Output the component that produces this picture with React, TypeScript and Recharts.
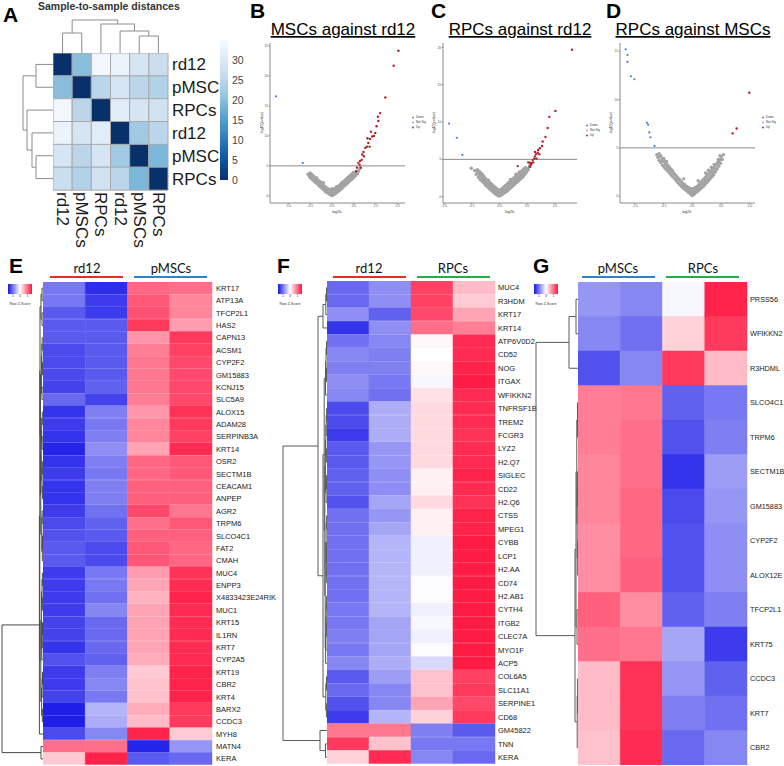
import React from 'react';
import { BarChart, Bar, Cell, XAxis, YAxis, ScatterChart, Scatter, ReferenceLine, Legend } from 'recharts';

const SANS = '"Liberation Sans", Arial, Helvetica, sans-serif';
const HEAD = 'Lato, "Open Sans", sans-serif';

// ---------------- Panel A data ----------------
const sampleRowLabels = ['rd12', 'pMSC', 'RPCs', 'rd12', 'pMSC', 'RPCs'];
const sampleColLabels = ['rd12', 'pMSCs', 'RPCs', 'rd12', 'pMSCs', 'RPCs'];
const sampleIds = ['s0', 's1', 's2', 's3', 's4', 's5'];
const distances = [
  [0, 20, 34, 33, 29, 27],
  [20, 0, 25, 29, 25, 24],
  [34, 25, 0, 31, 29, 28],
  [33, 29, 31, 0, 22, 25],
  [29, 25, 29, 22, 0, 19],
  [27, 24, 28, 25, 19, 0],
];
const distTicks = [0, 5, 10, 15, 20, 25, 30];
// dendrogram merges: [posA, heightA, posB, heightB, mergeHeight]
const aColTree = [
  [0.5, 0, 1.5, 0, 20],
  [4.5, 0, 5.5, 0, 17],
  [3.5, 0, 5.0, 17, 22],
  [2.5, 0, 4.25, 22, 29],
  [1.0, 20, 3.375, 29, 33],
];
const aRowTree = [
  [0.5, 0, 1.5, 0, 17],
  [4.5, 0, 5.5, 0, 17],
  [3.5, 0, 5.0, 17, 21],
  [2.5, 0, 4.25, 21, 26],
  [1.0, 17, 3.375, 26, 30],
];

// ---------------- Volcano data ----------------
const bDown = [[-1.28, 16.6], [-0.67, 5.5]];
const bUp = [[1.52, 24.2], [1.41, 21.7], [1.22, 16.4], [1.10, 13.8], [1.05, 13.2], [1.06, 12.5], [1.02, 11.6], [0.99, 10.5], [0.96, 10.0], [0.89, 10.7], [0.92, 9.9], [0.87, 9.5], [0.81, 9.6], [0.83, 8.8], [0.80, 8.2], [0.86, 8.2], [0.76, 8.0], [0.72, 7.3], [0.69, 6.9], [0.73, 6.6], [0.68, 6.0], [0.64, 5.8], [0.60, 5.5], [0.63, 5.2], [0.66, 4.7], [0.57, 4.7], [0.55, 4.1]];
const bNs = [[-0.55, 3.6], [-0.52, 3.3], [-0.5, 3.0], [-0.48, 3.4], [-0.46, 2.8], [-0.45, 3.1], [-0.43, 2.6], [-0.42, 2.9], [-0.4, 2.4], [-0.39, 2.8], [-0.37, 2.2], [-0.36, 2.6], [-0.34, 2.0], [-0.33, 2.4], [-0.31, 1.8], [-0.3, 2.2], [-0.28, 1.6], [-0.27, 2.0], [-0.25, 1.4], [-0.24, 1.9], [-0.22, 1.2], [-0.21, 1.6], [-0.19, 1.0], [-0.18, 1.4], [-0.16, 0.8], [-0.15, 1.2], [-0.13, 0.6], [-0.12, 1.0], [-0.1, 0.5], [-0.09, 0.9], [-0.07, 0.3], [-0.06, 0.7], [-0.04, 0.2], [-0.03, 0.6], [-0.01, 0.05], [0, 0.4], [0, 0.9], [0.02, 0.1], [0.03, 0.6], [0.05, 0.25], [0.06, 0.8], [0.08, 0.4], [0.09, 0.9], [0.11, 0.55], [0.12, 1.0], [0.14, 0.7], [0.15, 1.2], [0.17, 0.9], [0.18, 1.4], [0.2, 1.1], [0.21, 1.6], [0.23, 1.3], [0.24, 1.8], [0.26, 1.5], [0.27, 2.0], [0.29, 1.7], [0.3, 2.2], [0.32, 1.9], [0.33, 2.4], [0.35, 2.1], [0.36, 2.6], [0.38, 2.3], [0.39, 2.8], [0.41, 2.5], [0.42, 3.0], [0.44, 2.7], [0.45, 3.2], [0.47, 2.9], [0.48, 3.4], [0.5, 3.1], [0.52, 3.5], [0.54, 3.4], [0.56, 3.8], [0.58, 3.7], [0.6, 4.1], [0.62, 4.3], [0.64, 4.7], [-0.26, 2.3], [-0.2, 2.2], [0.1, 1.5], [0.22, 2.2], [-0.35, 3.0], [0.35, 2.9],
  [-0.5, 3.8], [-0.47, 3.6], [-0.44, 3.4], [-0.41, 3.2], [-0.38, 3.0], [-0.35, 2.8], [-0.32, 2.6], [-0.29, 2.4], [-0.26, 2.2], [-0.23, 2.0], [-0.2, 1.8], [-0.17, 1.6], [-0.14, 1.4], [-0.11, 1.25], [-0.08, 1.1], [-0.05, 1.0], [-0.02, 1.1], [0.01, 1.2], [0.04, 1.1], [0.07, 1.2], [0.1, 1.3], [0.13, 1.5], [0.16, 1.7], [0.19, 1.9], [0.22, 2.1], [0.25, 2.3], [0.28, 2.5], [0.31, 2.7], [0.34, 2.9], [0.37, 3.1], [0.4, 3.3], [0.43, 3.5], [0.46, 3.7], [0.49, 3.9]];

const cDown = [[-0.91, 9.8], [-0.77, 7.9], [-0.67, 5.6]];
const cUp = [[1.31, 19.7], [1.01, 11.5], [0.90, 10.7], [0.87, 9.2], [0.83, 8.0], [0.78, 7.4], [0.77, 6.8], [0.73, 6.5], [0.70, 6.25], [0.69, 5.9], [0.66, 5.7], [0.64, 5.4], [0.63, 5.1], [0.60, 4.9], [0.61, 4.6], [0.58, 4.5], [0.57, 4.3], [0.55, 4.55], [0.52, 4.6], [0.33, 4.1], [0.67, 5.1], [0.72, 5.7], [0.55, 4.0], [0.64, 6.0]];
const cNs = [[-0.42, 3.0], [-0.4, 3.3], [-0.38, 2.6], [-0.37, 3.0], [-0.35, 2.3], [-0.34, 2.8], [-0.32, 2.1], [-0.31, 2.5], [-0.29, 1.9], [-0.28, 2.3], [-0.26, 1.6], [-0.25, 2.0], [-0.23, 1.4], [-0.22, 1.8], [-0.2, 1.2], [-0.19, 1.6], [-0.17, 1.0], [-0.16, 1.4], [-0.14, 0.8], [-0.13, 1.2], [-0.11, 0.6], [-0.1, 1.0], [-0.08, 0.4], [-0.07, 0.8], [-0.05, 0.25], [-0.04, 0.6], [-0.02, 0.1], [-0.01, 0.5], [0.01, 0.1], [0.02, 0.5], [0.04, 0.25], [0.05, 0.7], [0.07, 0.4], [0.08, 0.85], [0.1, 0.55], [0.11, 1.0], [0.13, 0.7], [0.14, 1.2], [0.16, 0.9], [0.17, 1.4], [0.19, 1.1], [0.2, 1.6], [0.22, 1.3], [0.23, 1.8], [0.25, 1.5], [0.26, 2.0], [0.28, 1.7], [0.29, 2.2], [0.31, 1.9], [0.32, 2.4], [0.34, 2.1], [0.35, 2.6], [0.37, 2.3], [0.38, 2.8], [0.4, 2.5], [0.41, 3.0], [0.43, 2.7], [0.44, 3.2], [0.46, 3.0], [0.47, 3.4], [0.49, 3.3], [0.5, 3.7], [0.52, 3.6], [0.54, 4.0], [0.55, 4.2], [-0.51, 3.8], [-0.45, 3.5], [0.3, 3.0], [0.36, 3.3], [0.2, 2.3], [-0.2, 2.2],
  [-0.4, 3.6], [-0.37, 3.4], [-0.34, 3.2], [-0.31, 3.0], [-0.28, 2.7], [-0.25, 2.4], [-0.22, 2.2], [-0.19, 2.0], [-0.16, 1.8], [-0.13, 1.6], [-0.1, 1.4], [-0.07, 1.2], [-0.04, 1.0], [-0.01, 0.9], [0.02, 0.9], [0.05, 1.1], [0.08, 1.3], [0.11, 1.5], [0.14, 1.7], [0.17, 1.9], [0.2, 2.1], [0.23, 2.3], [0.26, 2.5], [0.29, 2.7], [0.32, 2.9], [0.35, 3.1], [0.38, 3.3], [0.41, 3.5], [0.44, 3.7], [0.47, 3.9]];

const dDown = [[-1.16, 15.2], [-1.13, 14.6], [-1.13, 13.9], [-1.07, 12.4], [-1.01, 12.1], [-0.79, 7.6], [-0.77, 7.4], [-0.75, 6.6], [-0.73, 6.1], [-0.66, 5.2]];
const dUp = [[0.99, 10.7], [0.77, 7.0], [0.70, 6.5]];
const dNs = [[-0.62, 4.3], [-0.6, 4.0], [-0.58, 3.7], [-0.57, 4.1], [-0.55, 3.5], [-0.53, 3.8], [-0.52, 3.2], [-0.5, 3.6], [-0.49, 3.0], [-0.47, 3.3], [-0.46, 2.8], [-0.44, 3.1], [-0.43, 2.6], [-0.41, 2.9], [-0.4, 2.4], [-0.38, 2.7], [-0.37, 2.2], [-0.35, 2.5], [-0.34, 2.0], [-0.32, 2.3], [-0.31, 1.8], [-0.29, 2.1], [-0.28, 1.6], [-0.26, 1.9], [-0.25, 1.4], [-0.23, 1.7], [-0.22, 1.2], [-0.2, 1.5], [-0.19, 1.0], [-0.17, 1.3], [-0.16, 0.85], [-0.14, 1.1], [-0.13, 0.7], [-0.11, 0.95], [-0.1, 0.55], [-0.08, 0.8], [-0.07, 0.4], [-0.05, 0.65], [-0.04, 0.25], [-0.02, 0.5], [-0.01, 0.1], [0, 0.35], [0.01, 0.1], [0.02, 0.45], [0.04, 0.25], [0.05, 0.6], [0.07, 0.4], [0.08, 0.75], [0.1, 0.55], [0.11, 0.9], [0.13, 0.7], [0.14, 1.1], [0.16, 0.85], [0.17, 1.25], [0.19, 1.0], [0.2, 1.4], [0.22, 1.2], [0.23, 1.6], [0.25, 1.4], [0.26, 1.8], [0.28, 1.6], [0.29, 2.0], [0.31, 1.8], [0.32, 2.2], [0.34, 2.0], [0.35, 2.4], [0.37, 2.2], [0.38, 2.6], [0.4, 2.5], [0.41, 2.9], [0.43, 2.8], [0.44, 3.2], [0.46, 3.1], [0.47, 3.5], [0.49, 3.4], [0.5, 3.8], [0.52, 3.8], [0.54, 4.3], [-0.5, 3.9], [-0.45, 3.6], [-0.15, 1.8], [0.23, 2.4], [0.28, 2.7], [0.33, 3.0], [0.38, 3.3], [0.45, 3.8], [0.48, 4.2], [0.1, 1.6],
  [-0.58, 4.4], [-0.55, 4.2], [-0.52, 3.9], [-0.49, 3.7], [-0.46, 3.4], [-0.43, 3.2], [-0.4, 3.0], [-0.37, 2.8], [-0.34, 2.6], [-0.31, 2.3], [-0.28, 2.1], [-0.25, 1.9], [-0.22, 1.7], [-0.19, 1.5], [-0.16, 1.3], [-0.13, 1.2], [-0.1, 1.0], [-0.07, 0.9], [-0.04, 0.8], [-0.01, 0.75], [0.02, 0.8], [0.05, 0.9], [0.08, 1.0], [0.11, 1.2], [0.14, 1.4], [0.17, 1.6], [0.2, 1.8], [0.23, 2.0], [0.26, 2.2], [0.29, 2.4], [0.32, 2.6], [0.35, 2.8], [0.38, 3.0], [0.41, 3.3], [0.44, 3.5], [0.47, 3.8], [0.5, 4.1]];

const xTicksB = [-1, -0.5, 0, 0.5, 1, 1.5];
const xTicksCD = [-1, -0.5, 0, 0.5, 1];
const yTicksB = [0, 5, 10, 15, 20, 25];
const yTicksC = [0, 5, 10, 15, 20];
const yTicksD = [0, 5, 10, 15];
const legendNames = ['Down', 'Not Sig', 'Up'];

// ---------------- Heatmap E ----------------
const eGenes = ['KRT17', 'ATP13A', 'TFCP2L1', 'HAS2', 'CAPN13', 'ACSM1', 'CYP2F2', 'GM15883', 'KCNJ15', 'SLC5A9', 'ALOX15', 'ADAM28', 'SERPINB3A', 'KRT14', 'OSR2', 'SECTM1B', 'CEACAM1', 'ANPEP', 'AGR2', 'TRPM6', 'SLCO4C1', 'FAT2', 'CMAH', 'MUC4', 'ENPP3', 'X4833423E24RIK', 'MUC1', 'KRT15', 'IL1RN', 'KRT7', 'CYP2A5', 'KRT19', 'CBR2', 'KRT4', 'BARX2', 'CCDC3', 'MYH8', 'MATN4', 'KERA'];
const eZ = [
  [-0.9, -1.4, 1.0, 0.95], [-0.9, -1.3, 1.1, 0.8], [-1.1, -1.3, 1.15, 0.8], [-1.1, -1.1, 1.3, 0.65],
  [-1.1, -1.1, 0.7, 1.3], [-1.2, -1.1, 0.85, 1.25], [-1.2, -1.1, 0.9, 1.2], [-1.2, -1.1, 0.9, 1.2],
  [-1.25, -1.05, 0.9, 1.2], [-1.0, -1.25, 0.85, 1.2], [-1.35, -0.85, 0.7, 1.35], [-1.3, -0.9, 0.8, 1.3],
  [-1.35, -0.85, 0.8, 1.25], [-1.45, -0.75, 0.6, 1.4], [-1.35, -0.85, 1.0, 1.1], [-1.3, -0.9, 1.0, 1.1],
  [-1.35, -0.85, 1.05, 1.05], [-1.35, -0.85, 1.05, 1.05], [-1.3, -0.95, 1.2, 0.9], [-1.2, -1.05, 0.95, 1.1],
  [-1.15, -1.1, 1.05, 1.05], [-1.1, -1.2, 1.1, 1.0], [-1.1, -1.2, 1.1, 1.0], [-1.3, -0.9, 0.65, 1.35],
  [-1.3, -0.9, 0.6, 1.4], [-1.3, -0.95, 0.5, 1.45], [-1.3, -0.8, 0.6, 1.4], [-1.25, -1.0, 0.6, 1.4],
  [-1.25, -1.0, 0.6, 1.4], [-1.35, -1.0, 0.6, 1.4], [-1.15, -1.05, 0.55, 1.4], [-1.3, -0.85, 0.35, 1.45],
  [-1.3, -0.8, 0.4, 1.45], [-1.25, -0.9, 0.4, 1.45], [-1.5, -0.5, 0.55, 1.3], [-1.5, -0.55, 0.45, 1.3],
  [-1.2, -0.8, 1.45, 0.35], [0.95, 0.95, -1.45, -0.7], [0.35, 1.45, -1.1, -1.0],
];
const eTree = [
  [0.5, 0, 1.5, 0, 1], [2.5, 0, 3.5, 0, 1], [1, 1, 3, 1, 2], [4.5, 0, 5.5, 0, 0.8], [6.5, 0, 7.5, 0, 0.6],
  [5, 0.8, 7, 0.6, 1.2], [8.5, 0, 9.5, 0, 1], [6, 1.2, 9, 1, 1.6], [10.5, 0, 11.5, 0, 0.7], [12.5, 0, 13.5, 0, 0.9],
  [11, 0.7, 13, 0.9, 1.3], [14.5, 0, 15.5, 0, 0.6], [16.5, 0, 17.5, 0, 0.4], [15, 0.6, 17, 0.4, 1], [12, 1.3, 16, 1, 1.8],
  [18.5, 0, 19.5, 0, 0.8], [20.5, 0, 21.5, 0, 0.5], [21, 0.5, 22.5, 0, 0.7], [19, 0.8, 21.75, 0.7, 1.2],
  [14, 1.8, 20.375, 1.2, 2.2], [7.5, 1.6, 17.19, 2.2, 2.6], [2, 2, 12.34, 2.6, 3], [23.5, 0, 24.5, 0, 0.6],
  [25.5, 0, 26.5, 0, 0.6], [24, 0.6, 26, 0.6, 1], [27.5, 0, 28.5, 0, 0.5], [28, 0.5, 29.5, 0, 0.8],
  [30.5, 0, 28.75, 0.8, 1.2], [25, 1, 29.63, 1.2, 1.6], [31.5, 0, 32.5, 0, 0.5], [32, 0.5, 33.5, 0, 0.9],
  [34.5, 0, 35.5, 0, 0.7], [32.75, 0.9, 35, 0.7, 1.4], [27.31, 1.6, 33.88, 1.4, 2.2], [7.17, 3, 30.59, 2.2, 3.2],
  [18.88, 3.2, 36.5, 0, 3.6], [37.5, 0, 38.5, 0, 2], [27.69, 3.6, 38, 2, 41],
];

// ---------------- Heatmap F ----------------
const fGenes = ['MUC4', 'R3HDM', 'KRT17', 'KRT14', 'ATP6V0D2', 'CD52', 'NOG', 'ITGAX', 'WFIKKN2', 'TNFRSF1B', 'TREM2', 'FCGR3', 'LYZ2', 'H2.Q7', 'SIGLEC', 'CD22', 'H2.Q6', 'CTSS', 'MPEG1', 'CYBB', 'LCP1', 'H2.AA', 'CD74', 'H2.AB1', 'CYTH4', 'ITGB2', 'CLEC7A', 'MYO1F', 'ACP5', 'COL6A5', 'SLC11A1', 'SERPINE1', 'CD68', 'GM45822', 'TNN', 'KERA'];
const fZ = [
  [-1.0, -0.75, 1.25, 0.45], [-1.0, -0.75, 1.25, 0.35], [-0.75, -1.05, 1.2, 0.6], [-1.35, -0.75, 0.95, 0.85],
  [-0.95, -0.8, 0.05, 1.4], [-0.8, -0.85, 0.0, 1.4], [-0.85, -0.85, 0.05, 1.45], [-0.75, -0.9, -0.05, 1.5],
  [-0.8, -0.95, 0.2, 1.4], [-1.2, -0.55, 0.25, 1.4], [-1.2, -0.55, 0.25, 1.4], [-1.3, -0.55, 0.25, 1.35],
  [-1.1, -0.7, 0.25, 1.4], [-1.1, -0.7, 0.25, 1.4], [-1.05, -0.75, 0.1, 1.45], [-1.05, -0.75, 0.1, 1.4],
  [-1.15, -0.6, 0.25, 1.35], [-0.95, -0.7, 0.1, 1.45], [-0.95, -0.6, 0.1, 1.45], [-0.95, -0.5, -0.1, 1.5],
  [-0.95, -0.5, -0.1, 1.5], [-0.95, -0.5, -0.1, 1.5], [-0.95, -0.5, -0.02, 1.5], [-0.95, -0.5, -0.02, 1.5],
  [-0.9, -0.5, -0.1, 1.5], [-0.9, -0.6, -0.05, 1.5], [-0.85, -0.6, -0.1, 1.5], [-0.9, -0.6, -0.02, 1.5],
  [-0.8, -0.55, -0.25, 1.5], [-1.1, -0.65, 0.4, 1.25], [-1.0, -0.8, 0.4, 1.3], [-1.15, -0.8, 0.6, 1.2],
  [-1.3, -0.5, 0.3, 1.3], [0.9, 0.9, -0.85, -1.1], [1.3, 0.4, -0.9, -0.9], [0.3, 1.4, -0.8, -1.0],
];
const fTree = [
  [0.5, 0, 1.5, 0, 0.5], [1, 0.5, 2.5, 0, 1.2], [1.75, 1.2, 3.5, 0, 4], [4.5, 0, 5.5, 0, 0.5], [6.5, 0, 7.5, 0, 0.5],
  [5, 0.5, 7, 0.5, 1], [6, 1, 8.5, 0, 1.5], [9.5, 0, 10.5, 0, 0.4], [10, 0.4, 11.5, 0, 0.8], [12.5, 0, 13.5, 0, 0.4],
  [10.75, 0.8, 13, 0.4, 1.2], [14.5, 0, 15.5, 0, 0.5], [15, 0.5, 16.5, 0, 0.9], [11.88, 1.2, 15.75, 0.9, 1.6],
  [17.5, 0, 18.5, 0, 0.4], [19.5, 0, 20.5, 0, 0.3], [21.5, 0, 22.5, 0, 0.3], [20, 0.3, 22, 0.3, 0.6], [18, 0.4, 21, 0.6, 0.9],
  [23.5, 0, 24.5, 0, 0.4], [25.5, 0, 26.5, 0, 0.4], [24, 0.4, 26, 0.4, 0.8], [25, 0.8, 27.5, 0, 1.1], [26.25, 1.1, 28.5, 0, 1.4],
  [19.5, 0.9, 27.38, 1.4, 1.8], [13.81, 1.6, 23.44, 1.8, 2.2], [7.25, 1.5, 18.63, 2.2, 2.8], [29.5, 0, 30.5, 0, 0.5],
  [31.5, 0, 32.5, 0, 0.6], [30, 0.5, 32, 0.6, 1.2], [12.94, 2.8, 31, 1.2, 4], [2.63, 4, 21.97, 4, 9],
  [34.5, 0, 35.5, 0, 1.5], [33.5, 0, 35, 1.5, 7], [12.3, 9, 34.25, 7, 44],
];

// ---------------- Heatmap G ----------------
const gGenes = ['PRSS56', 'WFIKKN2', 'R3HDML', 'SLCO4C1', 'TRPM6', 'SECTM1B', 'GM15883', 'CYP2F2', 'ALOX12E', 'TFCP2L1', 'KRT75', 'CCDC3', 'KRT7', 'CBR2'];
const gZ = [
  [-0.7, -0.8, -0.05, 1.45], [-0.8, -0.95, 0.3, 1.3], [-1.15, -0.8, 1.3, 0.45], [0.85, 0.9, -1.05, -0.9],
  [0.85, 0.95, -1.15, -0.85], [0.8, 0.95, -1.35, -0.65], [0.8, 1.0, -1.2, -0.7], [0.75, 1.0, -1.15, -0.75],
  [0.75, 1.05, -1.15, -0.75], [1.05, 0.75, -1.05, -0.85], [0.95, 0.9, -0.6, -1.3], [0.45, 1.35, -0.7, -1.05],
  [0.45, 1.35, -0.85, -0.95], [0.4, 1.4, -1.0, -0.8],
];
const gTree = [
  [0.5, 0, 1.5, 0, 2], [1, 2, 2.5, 0, 9], [3.5, 0, 4.5, 0, 0.5], [5.5, 0, 6.5, 0, 0.4], [7.5, 0, 8.5, 0, 0.3],
  [6, 0.4, 8, 0.3, 0.8], [4, 0.5, 7, 0.8, 1.2], [9.5, 0, 10.5, 0, 1], [5.5, 1.2, 10, 1, 2], [11.5, 0, 12.5, 0, 0.4],
  [12, 0.4, 13.5, 0, 0.8], [7.75, 2, 12.75, 0.8, 3], [1.75, 9, 10.25, 3, 42],
];

const zKeyData = [{ k: 'key', r: [-1.6, 1.6] }];
const zKeyTicks = [-1, 0, 1];

// ---------------- colours ----------------
const BLUES = ['#f7fbff', '#deebf7', '#c6dbef', '#9ecae1', '#6baed6', '#4292c6', '#2171b5', '#08519c', '#08306b'];
const hex = (h: string) => [parseInt(h.slice(1, 3), 16), parseInt(h.slice(3, 5), 16), parseInt(h.slice(5, 7), 16)];
const rgb = (a: number[]) => `rgb(${Math.round(a[0])},${Math.round(a[1])},${Math.round(a[2])})`;
function bluesColor(v: number) {
  const t = Math.min(1, Math.max(0, 1 - v / 35)) * 8;
  const i = Math.min(7, Math.floor(t));
  const f = t - i;
  const a = hex(BLUES[i]);
  const b = hex(BLUES[i + 1]);
  return rgb([a[0] + (b[0] - a[0]) * f, a[1] + (b[1] - a[1]) * f, a[2] + (b[2] - a[2]) * f]);
}
const ZBLUE = [22, 22, 232];
const ZRED = [255, 20, 62];
function zColor(z: number) {
  const t = Math.max(-1, Math.min(1, z / 1.55));
  if (t < 0) {
    const a = -t;
    return rgb([255 + (ZBLUE[0] - 255) * a, 255 + (ZBLUE[1] - 255) * a, 255 + (ZBLUE[2] - 255) * a]);
  }
  return rgb([255, 255 + (ZRED[1] - 255) * t, 255 + (ZRED[2] - 255) * t]);
}

const PT_GRAY = '#a3a3a3';
const PT_RED = '#b3202a';
const PT_BLUE = '#4f79d6';
const legendColors: Record<string, string> = { Down: PT_BLUE, 'Not Sig': PT_GRAY, Up: PT_RED };

const toPts = (a: number[][]) => a.map(([x, y]) => ({ x, y }));
const Empty = () => <g />;

// ---------------- components ----------------
type HMProps = {
  ids: string[]; labels: string[]; z: number[][]; colorOf: (v: number) => string;
  left: number; top: number; plotW: number; plotH: number; labelW: number;
  fontSize: number; labelGap: number; gridStroke?: string; colLabels?: string[]; colAxisH?: number;
};

function Heatmap(p: HMProps) {
  const nCol = p.z[0].length;
  const rows = p.ids.map((id) => {
    const r: any = { id };
    for (let j = 0; j < nCol; j++) r['u' + j] = 1;
    return r;
  });
  const colTicks = Array.from({ length: nCol }, (_, j) => j + 0.5);
  const axisH = p.colLabels ? p.colAxisH || 0 : 0;
  const ColTick = (t: any) => {
    const i = Math.floor(t.payload.value);
    return (
      <text transform={`translate(${t.x},${t.y}) rotate(90)`} x={0} y={0} dominantBaseline="central"
        fontSize={17} fill="#1a1a1a" fontFamily={SANS}>{p.colLabels ? p.colLabels[i] : ''}</text>
    );
  };
  return (
    <div style={{ position: 'absolute', left: p.left, top: p.top }}>
      <BarChart width={p.plotW + p.labelW} height={p.plotH + axisH} data={rows} layout="vertical"
        margin={{ top: 0, right: 0, bottom: 0, left: 0 }} barCategoryGap={0} barGap={0}>
        <XAxis type="number" domain={[0, nCol]} ticks={colTicks} hide={!p.colLabels} height={axisH}
          axisLine={false} tickLine={false} tickSize={0} tickMargin={2} interval={0} tick={ColTick} />
        <YAxis type="category" dataKey="id" orientation="right" width={p.labelW} axisLine={false}
          tickLine={false} tickSize={0} tickMargin={p.labelGap} interval={0}
          tickFormatter={(v: string) => p.labels[p.ids.indexOf(v)]}
          tick={{ fontSize: p.fontSize, fill: '#1a1a1a', fontFamily: SANS }} />
        {colTicks.map((_, j) => (
          <Bar key={j} dataKey={'u' + j} stackId="s" isAnimationActive={false}>
            {p.z.map((r, i) => {
              const c = p.colorOf(r[j]);
              return <Cell key={i} fill={c} stroke={p.gridStroke || c} strokeWidth={p.gridStroke ? 1 : 0.5} />;
            })}
          </Bar>
        ))}
      </BarChart>
    </div>
  );
}

type DProps = { merges: number[][]; n: number; hMax: number; left: number; top: number; width: number; height: number; dir: 'row' | 'col'; stroke: string };
function Dendro(p: DProps) {
  const series = p.merges.map(([pa, ha, pb, hb, h]) => [
    { p: pa, h: ha }, { p: pa, h }, { p: pb, h }, { p: pb, h: hb },
  ]);
  const row = p.dir === 'row';
  return (
    <div style={{ position: 'absolute', left: p.left, top: p.top }}>
      <ScatterChart width={p.width} height={p.height} margin={{ top: 0, right: 0, bottom: 0, left: 0 }}>
        {row
          ? <XAxis type="number" dataKey="h" domain={[0, p.hMax]} reversed hide />
          : <XAxis type="number" dataKey="p" domain={[0, p.n]} hide />}
        {row
          ? <YAxis type="number" dataKey="p" domain={[0, p.n]} reversed hide />
          : <YAxis type="number" dataKey="h" domain={[0, p.hMax]} hide />}
        {series.map((d, i) => (
          <Scatter key={i} data={d} line={{ stroke: p.stroke, strokeWidth: 1, fill: 'none' }} lineType="joint"
            shape={Empty} isAnimationActive={false} />
        ))}
      </ScatterChart>
    </div>
  );
}

const VolcanoLegend = () => (
  <svg width={28} height={16} style={{ display: 'block' }}>
    {legendNames.map((n, i) => (
      <g key={n}>
        <circle cx={2} cy={2.5 + i * 5} r={0.9} fill={legendColors[n]} />
        <text x={5} y={2.5 + i * 5} fontSize={3} dominantBaseline="middle" fill="#333" fontFamily={SANS}>{n}</text>
      </g>
    ))}
  </svg>
);

type VProps = {
  plotLeft: number; plotTop: number; plotW: number; plotH: number; xDomain: number[]; yDomain: number[];
  xTicks: number[]; yTicks: number[]; down: number[][]; ns: number[][]; up: number[][]; legendLeft: number; legendTop: number;
};
function Volcano(p: VProps) {
  const ML = 20, MT = 5, MR = 60, MB = 4, XH = 12;
  const left = p.plotLeft - ML, top = p.plotTop - MT;
  const dot = (r: number, c: string) => (s: any) => <circle cx={s.cx} cy={s.cy} r={r} fill={c} />;
  return (
    <div style={{ position: 'absolute', left, top }}>
      <ScatterChart width={ML + p.plotW + MR} height={MT + p.plotH + XH + MB}
        margin={{ top: MT, right: MR, bottom: MB, left: ML - 10 }}>
        <XAxis type="number" dataKey="x" domain={p.xDomain} ticks={p.xTicks} height={XH} allowDataOverflow
          stroke="#8a8a8a" tickSize={1.5} tickMargin={0.5} tick={{ fontSize: 3.2, fill: '#555', fontFamily: SANS }}
          tickFormatter={(v: number) => v.toFixed(1)} />
        <YAxis type="number" dataKey="y" domain={p.yDomain} ticks={p.yTicks} width={10} allowDataOverflow
          stroke="#8a8a8a" tickSize={1.5} tickMargin={0.5} tick={{ fontSize: 3.2, fill: '#555', fontFamily: SANS }} />
        <ReferenceLine y={5} stroke="#6e6e6e" strokeWidth={0.8} />
        <Scatter name="Not Sig" data={toPts(p.ns)} fill={PT_GRAY} shape={dot(1.7, PT_GRAY)} isAnimationActive={false} />
        <Scatter name="Down" data={toPts(p.down)} fill={PT_BLUE} shape={dot(1.1, PT_BLUE)} isAnimationActive={false} />
        <Scatter name="Up" data={toPts(p.up)} fill={PT_RED} shape={dot(1.2, PT_RED)} isAnimationActive={false} />
        <Legend layout="vertical" align="center" verticalAlign="middle" content={VolcanoLegend}
          wrapperStyle={{ left: p.legendLeft - left, top: p.legendTop - top, width: 28, height: 16 }} />
      </ScatterChart>
    </div>
  );
}

function ZKey({ left, top }: { left: number; top: number }) {
  return (
    <div style={{ position: 'absolute', left, top }}>
      <BarChart width={24} height={23} data={zKeyData} layout="vertical" margin={{ top: 0, right: 0, bottom: 0, left: 0 }}
        barCategoryGap={0}>
        <XAxis type="number" domain={[-1.6, 1.6]} ticks={zKeyTicks} height={13} axisLine={false}
          tickSize={1} tickLine={{ stroke: '#444', strokeWidth: 0.3 }} tickMargin={0.3}
          tick={{ fontSize: 3, fill: '#333', fontFamily: SANS }}
          label={{ value: 'Row Z-Score', position: 'insideBottom', offset: 2, fontSize: 3.6, fill: '#333', fontFamily: SANS }} />
        <YAxis type="category" dataKey="k" hide />
        <Bar dataKey="r" fill="url(#zGrad)" isAnimationActive={false} />
      </BarChart>
    </div>
  );
}

function ColorBar() {
  return (
    <div style={{ position: 'absolute', left: 220, top: 34 }}>
      <BarChart width={8 + 26} height={152} data={[{ k: 'c', v: 35 }]} margin={{ top: 6, right: 0, bottom: 6, left: 0 }}
        barCategoryGap={0}>
        <XAxis dataKey="k" hide />
        <YAxis type="number" domain={[0, 35]} ticks={distTicks} orientation="right" width={26} axisLine={false}
          tickLine={false} tickSize={0} tickMargin={4} interval={0} tick={{ fontSize: 10.5, fill: '#444', fontFamily: SANS }} />
        <Bar dataKey="v" fill="url(#bluesGrad)" isAnimationActive={false} />
      </BarChart>
    </div>
  );
}

export default function App() {
  return (
    <div style={{ position: 'absolute', left: 0, top: 0, width: 784, height: 766, background: '#fff', overflow: 'hidden', fontFamily: SANS }}>
      <svg width={0} height={0} style={{ position: 'absolute' }}>
        <defs>
          <linearGradient id="bluesGrad" x1="0" y1="0" x2="0" y2="1">
            {BLUES.map((c, i) => <stop key={i} offset={i / 8} stopColor={c} />)}
          </linearGradient>
          <linearGradient id="zGrad" x1="0" y1="0" x2="1" y2="0">
            <stop offset="0" stopColor={zColor(-1.6)} />
            <stop offset="0.5" stopColor="#ffffff" />
            <stop offset="1" stopColor={zColor(1.6)} />
          </linearGradient>
        </defs>
      </svg>

      {/* Panel A */}
      <Dendro merges={aColTree} n={6} hMax={35} left={53} top={18} width={115} height={35} dir="col" stroke="#8c8c8c" />
      <Dendro merges={aRowTree} n={6} hMax={35} left={18} top={53} width={35} height={137} dir="row" stroke="#8c8c8c" />
      <Heatmap ids={sampleIds} labels={sampleRowLabels} z={distances} colorOf={bluesColor} left={53} top={53}
        plotW={115} plotH={137} labelW={55} fontSize={17} labelGap={4} gridStroke="#a9a9a9"
        colLabels={sampleColLabels} colAxisH={70} />
      <ColorBar />

      {/* Panels B, C, D */}
      <Volcano plotLeft={270} plotTop={43} plotW={135} plotH={160} xDomain={[-1.42, 1.67]} yDomain={[-1.2, 25.5]}
        xTicks={xTicksB} yTicks={yTicksB} down={bDown} ns={bNs} up={bUp} legendLeft={411} legendTop={115} />
      <Volcano plotLeft={443} plotTop={43} plotW={134} plotH={160} xDomain={[-1.02, 1.4]} yDomain={[-0.85, 20.6]}
        xTicks={xTicksCD} yTicks={yTicksC} down={cDown} ns={cNs} up={cUp} legendLeft={585} legendTop={123} />
      <Volcano plotLeft={620} plotTop={43} plotW={135} plotH={160} xDomain={[-1.26, 1.09]} yDomain={[-0.7, 15.85]}
        xTicks={xTicksCD} yTicks={yTicksD} down={dDown} ns={dNs} up={dUp} legendLeft={761} legendTop={115} />

      {/* Panel E */}
      <Dendro merges={eTree} n={39} hMax={43} left={0} top={282} width={43} height={483} dir="row" stroke="#4a4a4a" />
      <Heatmap ids={eGenes} labels={eGenes} z={eZ} colorOf={zColor} left={43} top={282} plotW={169} plotH={483}
        labelW={70} fontSize={7.5} labelGap={4} />
      <ZKey left={8} top={284} />

      {/* Panel F */}
      <Dendro merges={fTree} n={36} hMax={46} left={281} top={281} width={46} height={483} dir="row" stroke="#5a5a5a" />
      <Heatmap ids={fGenes} labels={fGenes} z={fZ} colorOf={zColor} left={327} top={281} plotW={168} plotH={483}
        labelW={45} fontSize={7.5} labelGap={3} />
      <ZKey left={278} top={284} />

      {/* Panel G */}
      <Dendro merges={gTree} n={14} hMax={44} left={534} top={282} width={44} height={483} dir="row" stroke="#5a5a5a" />
      <Heatmap ids={gGenes} labels={gGenes} z={gZ} colorOf={zColor} left={578} top={282} plotW={169} plotH={483}
        labelW={45} fontSize={7.3} labelGap={3} />
      <ZKey left={534} top={284} />

      {/* Annotations */}
      <svg width={784} height={766} style={{ position: 'absolute', left: 0, top: 0, pointerEvents: 'none' }}>
        <g fontFamily={SANS} fontWeight="bold" fontSize={21} fill="#000">
          <text x={3} y={22}>A</text>
          <text x={250} y={18}>B</text>
          <text x={431} y={18}>C</text>
          <text x={606} y={18}>D</text>
          <text x={9} y={273}>E</text>
          <text x={277} y={273}>F</text>
          <text x={533} y={273}>G</text>
        </g>
        <text x={38} y={10} fontFamily={SANS} fontWeight="bold" fontSize={10.5} fill="#333">Sample-to-sample distances</text>
        <g fontFamily={SANS} fontSize={17} fill="#000" textAnchor="middle" textDecoration="underline">
          <text x={343} y={35}>MSCs against rd12</text>
          <text x={520} y={35}>RPCs against rd12</text>
          <text x={693} y={35}>RPCs against MSCs</text>
        </g>
        <g fontFamily={SANS} fontSize={3.5} fill="#333" textAnchor="middle">
          <text x={337} y={213}>log2fc</text>
          <text x={510} y={213}>log2fc</text>
          <text x={687} y={213}>log2fc</text>
          <text transform="translate(263,123) rotate(-90)">-log10(pvalue)</text>
          <text transform="translate(435,123) rotate(-90)">-log10(pvalue)</text>
          <text transform="translate(612,123) rotate(-90)">-log10(pvalue)</text>
        </g>
        <g fontFamily={HEAD} fontSize={13} fill="#111" textAnchor="middle">
          <text x={87} y={273}>rd12</text>
          <text x={171} y={273}>pMSCs</text>
          <text x={369} y={273}>rd12</text>
          <text x={453} y={273}>RPCs</text>
          <text x={618} y={273}>pMSCs</text>
          <text x={703} y={273}>RPCs</text>
        </g>
        <g strokeWidth={2}>
          <line x1={50} x2={123} y1={277} y2={277} stroke="#ec2b26" />
          <line x1={134} x2={207} y1={277} y2={277} stroke="#2a86cc" />
          <line x1={333} x2={406} y1={277} y2={277} stroke="#ec2b26" />
          <line x1={417} x2={490} y1={277} y2={277} stroke="#1fb04a" />
          <line x1={582} x2={655} y1={277} y2={277} stroke="#2a86cc" />
          <line x1={666} x2={739} y1={277} y2={277} stroke="#1fb04a" />
        </g>
      </svg>
    </div>
  );
}
